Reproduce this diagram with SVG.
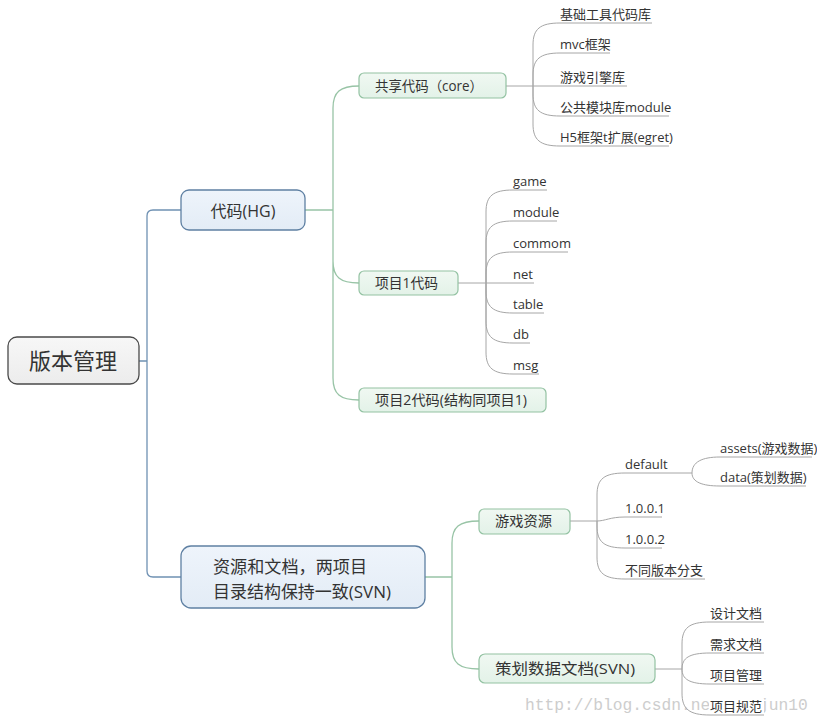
<svg xmlns="http://www.w3.org/2000/svg" width="817" height="725" viewBox="0 0 817 725">
<defs>
<linearGradient id="gRoot" x1="0" y1="0" x2="0" y2="1"><stop offset="0" stop-color="#f7f7f7"/><stop offset="1" stop-color="#ececec"/></linearGradient>
<linearGradient id="gL1" x1="0" y1="0" x2="0" y2="1"><stop offset="0" stop-color="#eef4fb"/><stop offset="1" stop-color="#e3ecf6"/></linearGradient>
<linearGradient id="gL2" x1="0" y1="0" x2="0" y2="1"><stop offset="0" stop-color="#f0f8f2"/><stop offset="1" stop-color="#e3f2e8"/></linearGradient>
</defs>
<style>
text{font-family:"Open Sans","Noto Sans CJK SC",sans-serif;fill:#333}
.root rect{fill:url(#gRoot);stroke:#4a4a4a;stroke-width:1.3}
.l1 rect{fill:url(#gL1);stroke:#5f80a3;stroke-width:1.3}
.l2 rect{fill:url(#gL2);stroke:#93c2a2;stroke-width:1.2}
.c1{fill:none;stroke:#6f91b3;stroke-width:1.3}
.c2{fill:none;stroke:#98c4a6;stroke-width:1.3}
.c3{fill:none;stroke:#a6a6a6;stroke-width:1}
.leaf text{font-size:13px}
.wm{font-family:"Liberation Mono",monospace;font-size:16.25px;fill:#cdcdcd}
</style>
<rect width="817" height="725" fill="#ffffff"/>
<g id="watermark">
<text class="wm" x="525" y="710">http://blog.csdn.ne</text>
<text class="wm" x="759" y="710">jun10</text>
</g>
<g id="connectors">
<path class="c1" d="M139,361 H147 M147,361 V216 Q147,210 153,210 H181 M147,361 V571 Q147,577 153,577 H181"/>
<path class="c2" d="M305,210 H333 M333,210 V108 C333,92 340,86 359,86 M333,210 V261 C333,277 340,283 359,283 M333,210 V378 C333,394 340,400 359,400"/>
<path class="c2" d="M425,577 H452 M452,577 V543 C452,527 459,521 479,521 M452,577 V647 C452,663 459,669 479,669"/>
<path class="c3" d="M506,86 H627 M533,86 V45 C533,29 540,23 560,23 H652 M533,86 V75 C533,59 540,53 560,53 H610 M533,86 V94 C533,110 540,116 560,116 H669 M533,86 V124 C533,140 540,146 560,146 H669"/>
<path class="c3" d="M458,283 H534 M486,283 V212 C486,196 493,190 513,190 H547 M486,283 V243 C486,227 493,221 513,221 H557 M486,283 V274 C486,258 493,252 513,252 H568 M486,283 V291 C486,307 493,313 513,313 H544 M486,283 V321 C486,337 493,343 513,343 H530 M486,283 V352 C486,368 493,374 513,374 H539"/>
<path class="c3" d="M570,521 H597 M597,521 V495 C597,479 604,473 625,473 H692 M597,521 C605,521 610,517 625,517 H662 M597,521 V526 C597,542 604,548 625,548 H662 M597,521 V557 C597,573 604,579 625,579 H705 M692,473 C692,462 702,457 720,457 H812 M692,473 C692,482 702,486 720,486 H806"/>
<path class="c3" d="M655,669 H682 M682,669 V644 C682,628 689,622 710,622 H764 M682,669 C682,658 689,653 710,653 H764 M682,669 C682,679 689,684 710,684 H764 M682,669 V693 C682,709 689,715 710,715 H764"/>
</g>
<g id="root" class="root"><rect x="8" y="337" width="131" height="47" rx="9"/><text x="73" y="369" font-size="22" text-anchor="middle">版本管理</text></g>
<g id="code" class="l1"><rect x="181" y="190" width="124" height="40" rx="8"/><text x="243" y="217" font-size="16" text-anchor="middle">代码(HG)</text></g>
<g id="res" class="l1"><rect x="181" y="546" width="244" height="62" rx="10"/><text x="213" y="573" font-size="17" textLength="154" lengthAdjust="spacingAndGlyphs">资源和文档，两项目</text><text x="213" y="598" font-size="17" textLength="178" lengthAdjust="spacingAndGlyphs">目录结构保持一致(SVN)</text></g>
<g id="core" class="l2"><rect x="359" y="73" width="147" height="25" rx="5"/><text x="375" y="91" font-size="14" textLength="108" lengthAdjust="spacingAndGlyphs">共享代码（core）</text></g>
<g id="p1" class="l2"><rect x="359" y="271" width="99" height="24" rx="5"/><text x="375" y="288" font-size="14" textLength="63" lengthAdjust="spacingAndGlyphs">项目1代码</text></g>
<g id="p2" class="l2"><rect x="359" y="388" width="187" height="24" rx="5"/><text x="375" y="405" font-size="14" textLength="152" lengthAdjust="spacingAndGlyphs">项目2代码(结构同项目1)</text></g>
<g id="gameres" class="l2"><rect x="479" y="509" width="91" height="25" rx="5"/><text x="495" y="526" font-size="14" textLength="57" lengthAdjust="spacingAndGlyphs">游戏资源</text></g>
<g id="plan" class="l2"><rect x="479" y="654" width="176" height="29" rx="6"/><text x="495" y="674" font-size="15" textLength="140" lengthAdjust="spacingAndGlyphs">策划数据文档(SVN)</text></g>
<g id="core-leaves" class="leaf">
<text x="560" y="19">基础工具代码库</text>
<text x="560" y="49">mvc框架</text>
<text x="560" y="82">游戏引擎库</text>
<text x="560" y="112">公共模块库module</text>
<text x="560" y="142">H5框架t扩展(egret)</text>
</g>
<g id="p1-leaves" class="leaf">
<text x="513" y="186">game</text>
<text x="513" y="217">module</text>
<text x="513" y="248">commom</text>
<text x="513" y="279">net</text>
<text x="513" y="309">table</text>
<text x="513" y="339">db</text>
<text x="513" y="370">msg</text>
</g>
<g id="res-leaves" class="leaf">
<text x="625" y="469">default</text>
<text x="720" y="453">assets(游戏数据)</text>
<text x="720" y="482">data(策划数据)</text>
<text x="625" y="513">1.0.0.1</text>
<text x="625" y="544">1.0.0.2</text>
<text x="625" y="575">不同版本分支</text>
</g>
<g id="plan-leaves" class="leaf">
<text x="710" y="618">设计文档</text>
<text x="710" y="649">需求文档</text>
<text x="710" y="680">项目管理</text>
<rect x="709" y="699" width="55" height="15" fill="#ffffff"/>
<text x="710" y="711">项目规范</text>
</g>
</svg>
